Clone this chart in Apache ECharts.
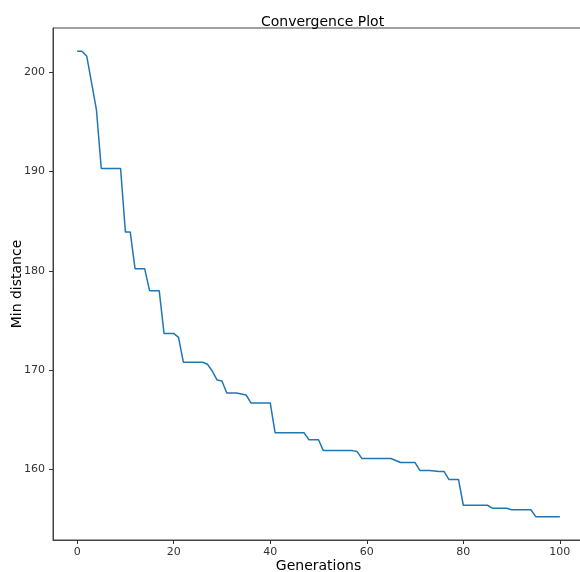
<!DOCTYPE html>
<html>
<head>
<meta charset="utf-8">
<script src="https://cdn.jsdelivr.net/npm/echarts@6/dist/echarts.min.js"></script>
<style>
  html, body { margin: 0; padding: 0; background: #fff; }
  #chart { width: 580px; height: 572px; }
</style>
</head>
<body>
<div id="chart"></div>
<script>
// min distance per generation
const minDistance = [
  202.1, 202.1, 201.6, 198.9, 196.2, 190.3, 190.3, 190.3, 190.3, 190.3,
  183.9, 183.9, 180.2, 180.2, 180.2, 178.0, 178.0, 178.0, 173.7, 173.7,
  173.7, 173.3, 170.8, 170.8, 170.8, 170.8, 170.8, 170.6, 169.9, 169.0,
  168.9, 167.7, 167.7, 167.7, 167.6, 167.5, 166.7, 166.7, 166.7, 166.7,
  166.7, 163.7, 163.7, 163.7, 163.7, 163.7, 163.7, 163.7, 163.0, 163.0,
  163.0, 161.9, 161.9, 161.9, 161.9, 161.9, 161.9, 161.9, 161.8, 161.1,
  161.1, 161.1, 161.1, 161.1, 161.1, 161.1, 160.9, 160.7, 160.7, 160.7,
  160.7, 159.9, 159.9, 159.9, 159.85, 159.8, 159.8, 159.0, 159.0, 159.0,
  156.4, 156.4, 156.4, 156.4, 156.4, 156.4, 156.1, 156.1, 156.1, 156.1,
  155.95, 155.95, 155.95, 155.95, 155.95, 155.25, 155.25, 155.25, 155.25, 155.25,
  155.25
];
const generations = minDistance.map((_, i) => i);
// axis view ranges (5% margins like matplotlib) and tick labels
const xRange = [-5, 105];
const yRange = [152.9, 204.45];
const xTicks = [0, 20, 40, 60, 80, 100];
const yTicks = [160, 170, 180, 190, 200];

const chart = echarts.init(document.getElementById("chart"));
const font = "DejaVu Sans";

const option = {
  animation: false,
  backgroundColor: "#fff",
  title: {
    text: "Convergence Plot",
    left: 256,
    top: 10,
    textStyle: { fontFamily: font, fontSize: 14, fontWeight: "normal", color: "#000" },
  },
  grid: {
    left: 53,
    top: 28,
    width: 531,
    height: 512,
    outerBoundsMode: "none",
    containLabel: false,
    show: true,
    borderColor: "#444",
    borderWidth: 1,
  },
  xAxis: {
    type: "value",
    min: xRange[0],
    max: xRange[1],
    name: "Generations",
    nameLocation: "middle",
    nameGap: 19,
    nameMoveOverlap: false,
    nameTextStyle: { fontFamily: font, fontSize: 14, color: "#000" },
    axisLine: { show: true, onZero: false, lineStyle: { color: "#444", width: 1 } },
    axisTick: { show: true, length: 4, lineStyle: { color: "#333", width: 1 }, customValues: xTicks },
    axisLabel: { fontFamily: font, fontSize: 11, color: "#333", margin: 7, customValues: xTicks },
    splitLine: { show: false },
  },
  yAxis: {
    type: "value",
    min: yRange[0],
    max: yRange[1],
    name: "Min distance",
    nameLocation: "middle",
    nameGap: 29,
    nameMoveOverlap: false,
    nameTextStyle: { fontFamily: font, fontSize: 14, color: "#000" },
    axisLine: { show: true, onZero: false, lineStyle: { color: "#444", width: 1 } },
    axisTick: { show: true, length: 4, lineStyle: { color: "#333", width: 1 }, customValues: yTicks },
    axisLabel: { fontFamily: font, fontSize: 11, color: "#333", margin: 8, customValues: yTicks },
    splitLine: { show: false },
  },
  series: [
    {
      type: "line",
      data: generations.map((g, i) => [g, minDistance[i]]),
      showSymbol: false,
      lineStyle: { color: "#1f77b4", width: 1.5 },
      itemStyle: { color: "#1f77b4" },
    },
  ],
};
chart.setOption(option);
</script>
</body>
</html>
